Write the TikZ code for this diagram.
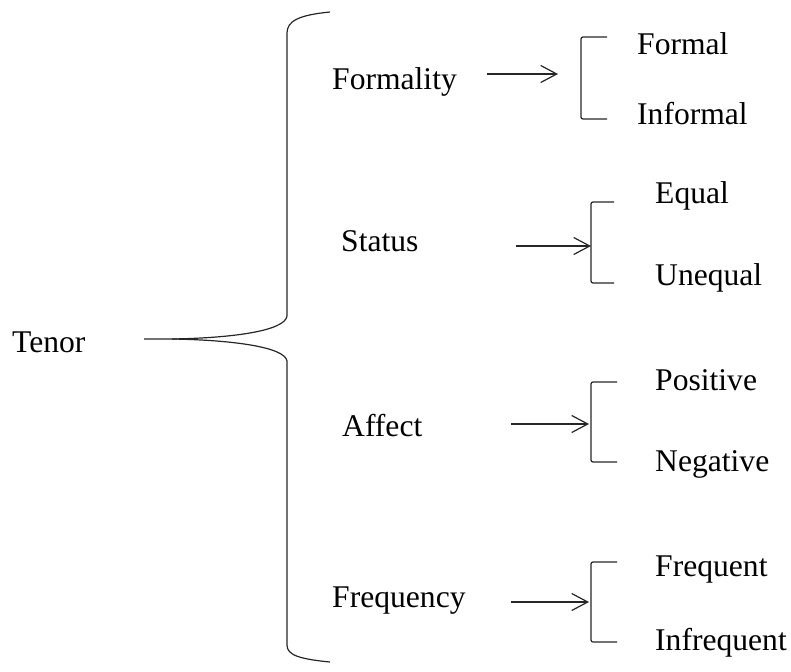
\documentclass[tikz,border=0pt]{standalone}
\usepackage{fontspec}
\setmainfont{Liberation Serif}
\usetikzlibrary{arrows.meta}
\begin{document}
\begin{tikzpicture}[x=1pt,y=-1pt,
  lbl/.style={anchor=base west,inner sep=0pt,font=\fontsize{31.6}{37}\selectfont},
  ln/.style={line width=1.2pt,draw=black!85},
  arr/.style={ln,-{Straight Barb[length=16pt,width=17pt,line width=1.2pt]}},
  brk/.style={ln,rounded corners=2pt}]
\useasboundingbox (0,0) rectangle (791,671);
% main brace
\draw[ln] (330,12) .. controls (299,15) and (287,21) .. (287,33) -- (287,316)
  .. controls (285,331) and (232,338) .. (172,339) -- (144,339);
\draw[ln] (172,339) .. controls (232,340) and (285,347) .. (287,361) -- (287,645)
  .. controls (287,655) and (299,659) .. (330,662);
\node[lbl] (tenor) at (12,352) {Tenor};
% Formality
\node[lbl] (formality) at (332,90) {Formality};
\coordinate (fa) at (487,74); \coordinate (fb) at (558,74);
\draw[arr] (fa) -- (fb);
\draw[brk] (607,37) -- (581,37) -- (581,119) -- (607,119);
\node[lbl] (formal) at (637,55) {Formal};
\node[lbl] (informal) at (637,125) {Informal};
% Status
\node[lbl] (status) at (341,251) {Status};
\coordinate (sa) at (516,246); \coordinate (sb) at (591,246);
\draw[arr] (sa) -- (sb);
\draw[brk] (614,202) -- (591,202) -- (591,283) -- (614,283);
\node[lbl] (equal) at (655,203) {Equal};
\node[lbl] (unequal) at (655,285) {Unequal};
% Affect
\node[lbl] (affect) at (342,436) {Affect};
\coordinate (aa) at (511,424); \coordinate (ab) at (589,424);
\draw[arr] (aa) -- (ab);
\draw[brk] (617,382) -- (591,382) -- (591,462) -- (617,462);
\node[lbl] (positive) at (655,390) {Positive};
\node[lbl] (negative) at (655,471) {Negative};
% Frequency
\node[lbl] (frequency) at (332,607) {Frequency};
\coordinate (qa) at (511,602); \coordinate (qb) at (589,602);
\draw[arr] (qa) -- (qb);
\draw[brk] (617,562) -- (591,562) -- (591,642) -- (617,642);
\node[lbl] (frequent) at (655,576) {Frequent};
\node[lbl] (infrequent) at (655,650) {Infrequent};
\end{tikzpicture}
\end{document}
